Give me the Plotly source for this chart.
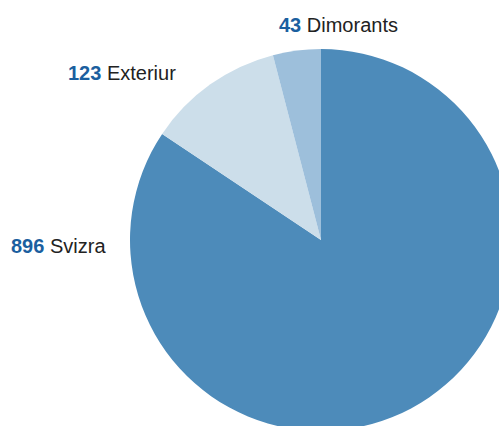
import plotly.graph_objects as go

# slice data, clockwise from 12 o'clock
labels = ["Svizra", "Exteriur", "Dimorants"]
values = [896, 123, 43]
colors = ["#4d8bba", "#ccdeea", "#9dbfdb"]

# figure is bigger than the window so the pie gets cut off on the right/bottom
W, H = 520, 440

fig = go.Figure(go.Pie(
    labels=labels,
    values=values,
    sort=False,
    direction="clockwise",
    rotation=0,
    marker=dict(colors=colors, line=dict(width=0)),
    textinfo="none",
    hoverinfo="label+value",
    domain=dict(x=[130 / W, 512 / W], y=[9 / H, 391 / H]),
))

# label positions in pixels (x centre, y centre)
label_pos = {"Dimorants": (338, 25), "Exteriur": (122, 73), "Svizra": (58, 246)}
for lab, val in zip(labels, values):
    px_x, px_y = label_pos[lab]
    fig.add_annotation(
        x=px_x / W, y=1 - px_y / H, xref="paper", yref="paper",
        text="<b><span style='color:#1b5f9f'>%d</span></b> %s" % (val, lab),
        showarrow=False, xanchor="center", yanchor="middle",
        font=dict(family="Liberation Sans, Arial, sans-serif", size=20, color="#222222"),
    )

fig.update_layout(
    width=W, height=H,
    margin=dict(l=0, r=0, t=0, b=0),
    showlegend=False,
    paper_bgcolor="white",
    plot_bgcolor="white",
)

fig.write_html("out.html", config={"displayModeBar": False},
               post_script="document.body.style.margin='0';document.body.style.overflow='hidden';")
